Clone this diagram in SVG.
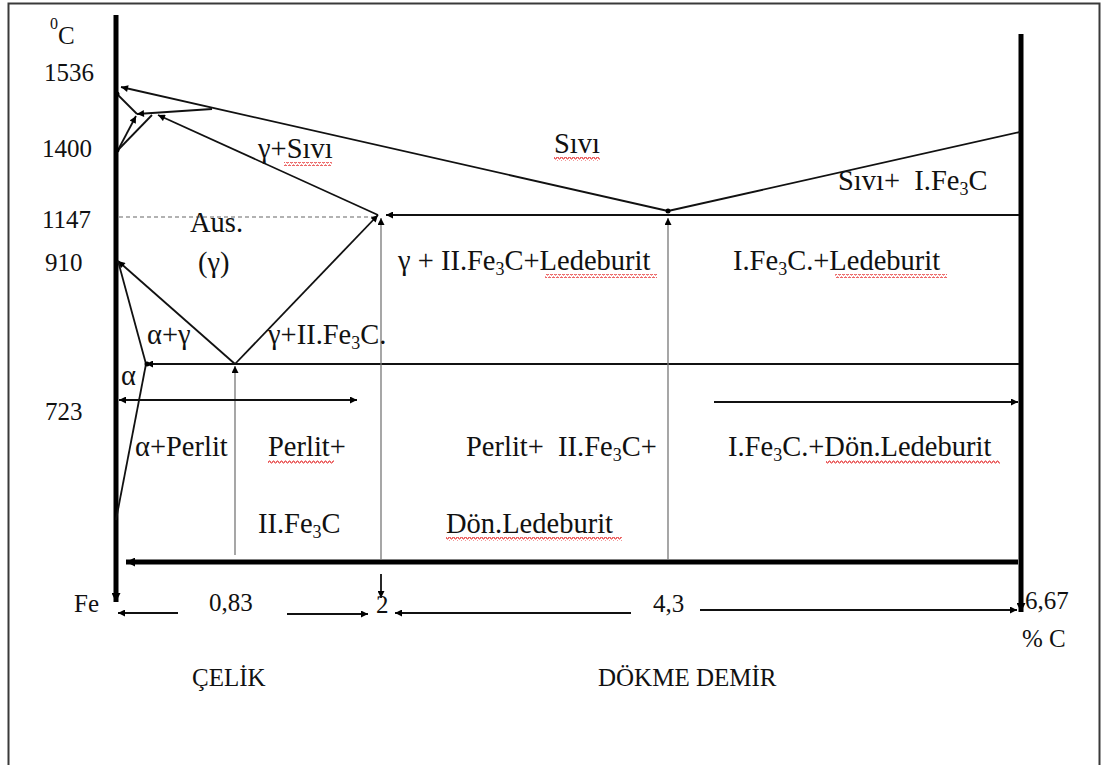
<svg xmlns="http://www.w3.org/2000/svg" width="1101" height="765" viewBox="0 0 1101 765">
  <defs>
    <style>
      .frame { fill: none; stroke: #3a3a3a; stroke-width: 2; }
      .axis { stroke: #000; stroke-width: 5; fill: none; }
      .ln { stroke: #111; stroke-width: 1.8; fill: none; }
      .thin { stroke: #777; stroke-width: 1.3; fill: none; }
      .dash { stroke: #999; stroke-width: 1.3; stroke-dasharray: 4 3; fill: none; }
      .num { font-family: "Liberation Serif", "Times New Roman", serif; font-size: 25px; fill: #111; }
      .lbl { font-family: "Liberation Serif", "Times New Roman", serif; font-size: 28.5px; fill: #111; }
      .sub { font-size: 18px; }
      .squig { fill: url(#wave); }
    </style>
    <marker id="ah" viewBox="0 0 10 10" refX="10" refY="5" markerWidth="9" markerHeight="7" markerUnits="userSpaceOnUse" orient="auto-start-reverse">
      <path d="M0,0 L10,5 L0,10 Z" fill="#000"/>
    </marker>
    <marker id="ahBig" viewBox="0 0 10 10" refX="10" refY="5" markerWidth="10" markerHeight="9" markerUnits="userSpaceOnUse" orient="auto-start-reverse">
      <path d="M0,0 L10,5 L0,10 Z" fill="#000"/>
    </marker>
    <pattern id="wave" x="0" y="0" width="4" height="4" patternUnits="userSpaceOnUse">
      <path d="M0,3 L1,1 L2,1 L3,3 L4,3" stroke="#e53030" stroke-width="1" fill="none"/>
    </pattern>
  </defs>

  <!-- page frame (open at the bottom) -->
  <path class="frame" d="M8.5,770 V3.5 H1099.5 V770"/>

  <!-- axes -->
  <g id="axes">
    <line class="axis" x1="116" y1="15" x2="116" y2="602" marker-end="url(#ahBig)"/>
    <line class="axis" x1="1021" y1="34" x2="1021" y2="612" marker-end="url(#ahBig)"/>
    <line class="axis" x1="1018" y1="562" x2="126" y2="562" marker-end="url(#ahBig)"/>
  </g>

  <!-- phase boundaries and guide lines -->
  <g id="connectors">
    <!-- liquidus -->
    <line class="ln" x1="668" y1="211" x2="121" y2="87" marker-end="url(#ah)"/>
    <line class="ln" x1="1020" y1="132" x2="668" y2="211"/>
    <circle cx="668" cy="211" r="2.5" fill="#000"/>
    <!-- delta corner -->
    <line class="ln" x1="117" y1="94" x2="137" y2="114"/>
    <line class="ln" x1="212" y1="109" x2="137" y2="114" marker-end="url(#ah)"/>
    <line class="ln" x1="118" y1="150" x2="136" y2="116" marker-end="url(#ah)"/>
    <line class="ln" x1="118" y1="150" x2="152" y2="115"/>
    <line class="ln" x1="378" y1="215" x2="158" y2="115" marker-end="url(#ah)"/>
    <circle cx="117" cy="94" r="2.5" fill="#000"/>
    <circle cx="117" cy="150" r="2.5" fill="#000"/>
    <!-- eutectic line -->
    <line class="ln" x1="1019" y1="215" x2="386" y2="215" marker-end="url(#ah)"/>
    <line class="dash" x1="119" y1="217" x2="376" y2="217"/>
    <!-- austenite boundaries -->
    <line class="ln" x1="235" y1="364" x2="378" y2="215" marker-end="url(#ah)"/>
    <line class="ln" x1="235" y1="364" x2="118" y2="261" marker-end="url(#ah)"/>
    <line class="ln" x1="146" y1="364" x2="118" y2="261"/>
    <line class="ln" x1="146" y1="364" x2="116" y2="520"/>
    <!-- eutectoid line -->
    <line class="ln" x1="1019" y1="364" x2="146" y2="364" marker-end="url(#ah)"/>
    <circle cx="147" cy="364" r="2.5" fill="#000"/>
    <!-- vertical guides -->
    <line class="thin" x1="235" y1="555" x2="235" y2="366" marker-end="url(#ah)"/>
    <line class="thin" x1="381" y1="560" x2="381" y2="218" marker-end="url(#ah)"/>
    <line class="thin" x1="668" y1="560" x2="668" y2="218" marker-end="url(#ah)"/>
    <!-- range arrows -->
    <line class="ln" x1="119" y1="400" x2="357" y2="400" marker-start="url(#ah)" marker-end="url(#ah)"/>
    <line class="ln" x1="714" y1="402" x2="1018" y2="402" marker-end="url(#ah)"/>
    <line class="ln" x1="178" y1="613" x2="118" y2="613" marker-end="url(#ah)"/>
    <line class="ln" x1="287" y1="614" x2="368" y2="614" marker-end="url(#ah)"/>
    <line class="ln" x1="381" y1="574" x2="381" y2="598" marker-end="url(#ah)"/>
    <line class="ln" x1="631" y1="613" x2="395" y2="613" marker-end="url(#ah)"/>
    <line class="ln" x1="700" y1="610" x2="1017" y2="610" marker-end="url(#ah)"/>
  </g>

  <!-- temperature scale -->
  <g id="temps">
    <text class="num" x="50" y="29" style="font-size:16px">0</text>
    <text class="num" x="58" y="44">C</text>
    <text class="num" x="44" y="81">1536</text>
    <text class="num" x="42" y="157">1400</text>
    <text class="num" x="42" y="228">1147</text>
    <text class="num" x="45" y="271">910</text>
    <text class="num" x="45" y="420">723</text>
  </g>

  <!-- composition scale -->
  <g id="comp">
    <text class="num" x="74" y="612">Fe</text>
    <text class="num" x="209" y="611">0,83</text>
    <text class="num" x="376" y="613">2</text>
    <text class="num" x="653" y="612">4,3</text>
    <text class="num" x="1025" y="609">6,67</text>
    <text class="num" x="1022" y="647">% C</text>
    <text class="num" x="192" y="686">ÇELİK</text>
    <text class="num" x="598" y="686">DÖKME DEMİR</text>
  </g>

  <!-- phase field labels -->
  <g id="liquid-gamma"><text class="lbl" x="258" y="158">γ+Sıvı</text></g>
  <g id="liquid"><text class="lbl" x="554" y="153">Sıvı</text></g>
  <g id="liquid-fe3c"><text class="lbl" x="838" y="190" xml:space="preserve">Sıvı+  I.Fe<tspan class="sub" dy="5">3</tspan><tspan dy="-5">C</tspan></text></g>
  <g id="austenite">
    <text class="lbl" x="190" y="232">Aus.</text>
    <text class="lbl" x="198" y="272">(γ)</text>
  </g>
  <g id="hypo-eutectic"><text class="lbl" x="398" y="270">γ + II.Fe<tspan class="sub" dy="5">3</tspan><tspan dy="-5">C+Ledeburit</tspan></text></g>
  <g id="hyper-eutectic"><text class="lbl" x="733" y="270">I.Fe<tspan class="sub" dy="5">3</tspan><tspan dy="-5">C.+Ledeburit</tspan></text></g>
  <g id="alpha-gamma"><text class="lbl" x="147" y="344">α+γ</text></g>
  <g id="gamma-fe3c"><text class="lbl" x="268" y="344">γ+II.Fe<tspan class="sub" dy="5">3</tspan><tspan dy="-5">C.</tspan></text></g>
  <g id="ferrite"><text class="lbl" x="121" y="385">α</text></g>
  <g id="hypo-eutectoid"><text class="lbl" x="135" y="456">α+Perlit</text></g>
  <g id="hyper-eutectoid">
    <text class="lbl" x="268" y="456">Perlit+</text>
    <text class="lbl" x="258" y="533">II.Fe<tspan class="sub" dy="5">3</tspan><tspan dy="-5">C</tspan></text>
  </g>
  <g id="cast-hypo">
    <text class="lbl" x="466" y="456" xml:space="preserve">Perlit+  II.Fe<tspan class="sub" dy="5">3</tspan><tspan dy="-5">C+</tspan></text>
    <text class="lbl" x="446" y="533">Dön.Ledeburit</text>
  </g>
  <g id="cast-hyper"><text class="lbl" x="728" y="456">I.Fe<tspan class="sub" dy="5">3</tspan><tspan dy="-5">C.+Dön.Ledeburit</tspan></text></g>

  <!-- spell-check underlines -->
  <g id="squiggles">
    <rect class="squig" x="284" y="162" width="48" height="4"/>
    <rect class="squig" x="554" y="157" width="46" height="4"/>
    <rect class="squig" x="545" y="274" width="112" height="4"/>
    <rect class="squig" x="835" y="274" width="112" height="4"/>
    <rect class="squig" x="268" y="460" width="66" height="4"/>
    <rect class="squig" x="446" y="537" width="176" height="4"/>
    <rect class="squig" x="826" y="460" width="174" height="4"/>
  </g>
</svg>
